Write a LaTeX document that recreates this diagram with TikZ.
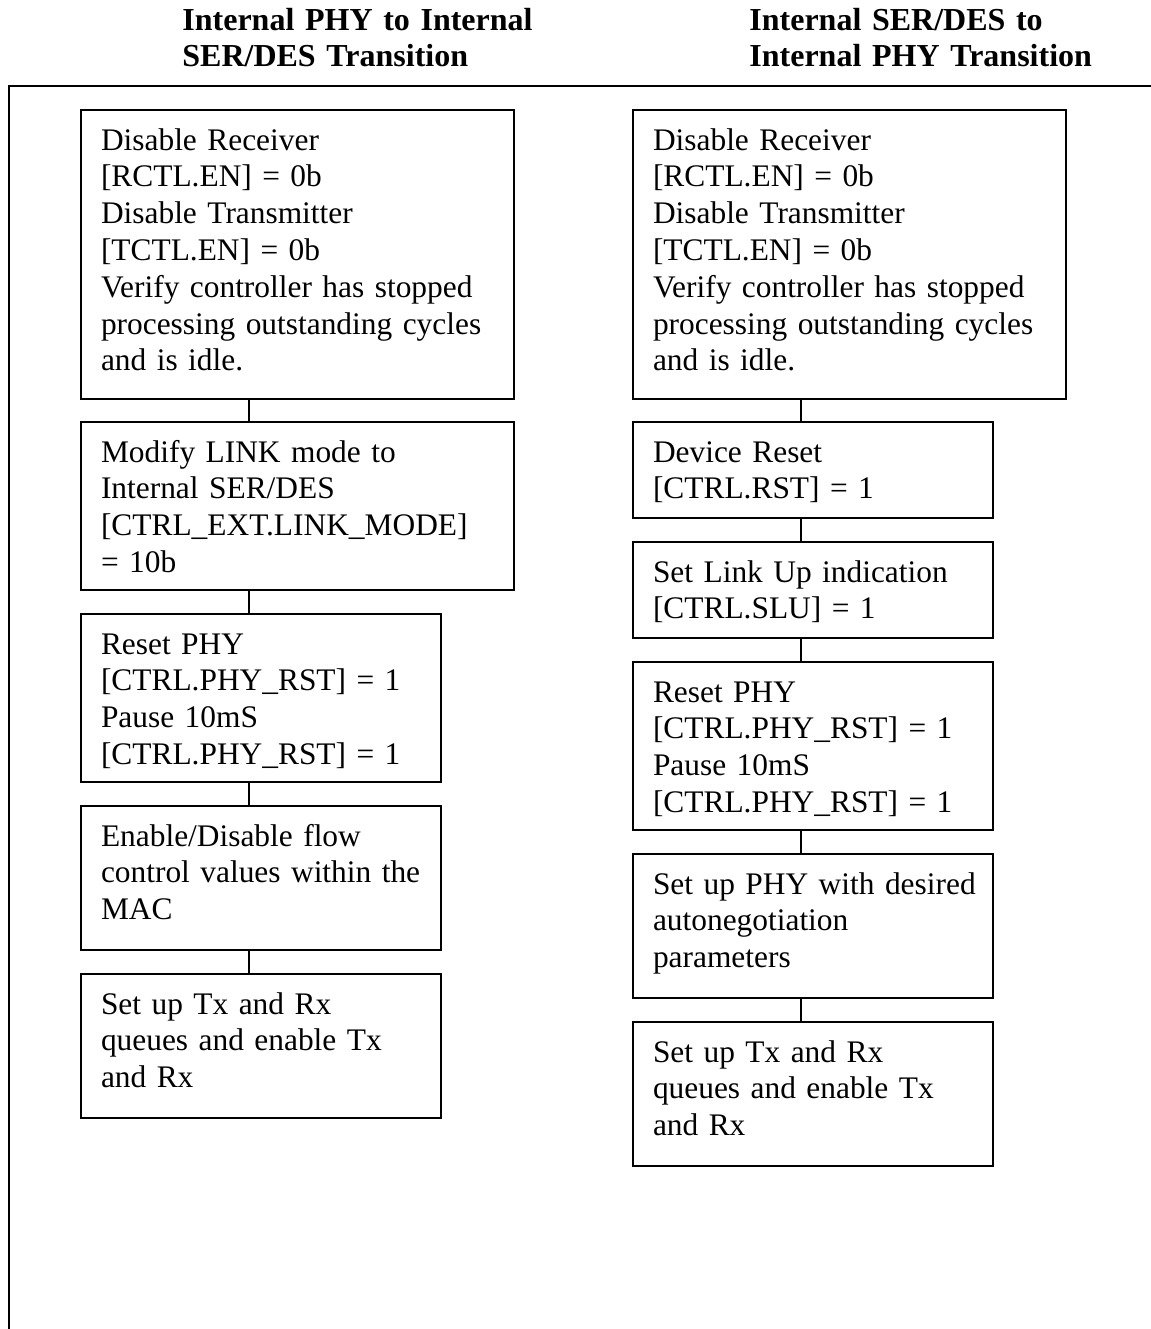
\documentclass[tikz,border=0pt]{standalone}
\usepackage{fontspec}
\setmainfont{Liberation Serif}
\begin{document}
\begin{tikzpicture}[
  x=0.5pt, y=-0.5pt,
  heading/.style={font=\fontsize{16}{18.4}\selectfont\bfseries, anchor=base west,
    align=left, text width=200pt, inner sep=0pt},
  stepbox/.style={font=\fontsize{15.7}{18.4}\selectfont, draw, line width=1pt,
    anchor=north west, inner xsep=10pt, inner ysep=0pt, outer sep=0pt,
    text height=20pt,
    execute at begin node={\leftskip=0pt\rightskip=-30pt plus 1fil\hyphenpenalty=10000\relax}},
  wideB/.style={stepbox, text width=196.5pt},
  narrowB/.style={stepbox, text width=160pt},
  e/.style={line width=1pt}
]
\useasboundingbox (0,0) rectangle (1151,1329);

% --- outer frame (open at right and bottom) ---
\draw[line width=1.2pt] (1151,86) -- (9,86) -- (9,1329);

% --- Left column: PHY -> SER/DES ---
\node[heading] (tL) at (182,30) {Internal PHY to Internal\\SER/DES Transition};

\node[wideB, text depth=124.5pt] (L1) at (81,110) {Disable Receiver\\{}[RCTL.EN] = 0b\\Disable Transmitter\\{}[TCTL.EN] = 0b\\Verify controller has stopped\\processing outstanding cycles\\and is idle.};
\node[wideB, text depth=64pt] (L2) at (81,422) {Modify LINK mode to\\Internal SER/DES\\{}[CTRL\_EXT.LINK\_MODE]\\= 10b};
\node[narrowB, text depth=64pt] (L3) at (81,614) {Reset PHY\\{}[CTRL.PHY\_RST] = 1\\Pause 10mS\\{}[CTRL.PHY\_RST] = 1};
\node[narrowB, text depth=52pt] (L4) at (81,806) {Enable/Disable flow\\control values within the\\MAC};
\node[narrowB, text depth=52pt] (L5) at (81,974) {Set up Tx and Rx\\queues and enable Tx\\and Rx};

\coordinate (lx) at (249,0);
\draw[e] (L1.south -| lx) -- (L2.north -| lx);
\draw[e] (L2.south -| lx) -- (L3.north -| lx);
\draw[e] (L3.south -| lx) -- (L4.north -| lx);
\draw[e] (L4.south -| lx) -- (L5.north -| lx);

% --- Right column: SER/DES -> PHY ---
\node[heading] (tR) at (749,30) {Internal SER/DES to\\Internal PHY Transition};

\node[wideB, text depth=124.5pt] (R1) at (633,110) {Disable Receiver\\{}[RCTL.EN] = 0b\\Disable Transmitter\\{}[TCTL.EN] = 0b\\Verify controller has stopped\\processing outstanding cycles\\and is idle.};
\node[narrowB, text depth=28pt] (R2) at (633,422) {Device Reset\\{}[CTRL.RST] = 1};
\node[narrowB, text depth=28pt] (R3) at (633,542) {Set Link Up indication\\{}[CTRL.SLU] = 1};
\node[narrowB, text depth=64pt] (R4) at (633,662) {Reset PHY\\{}[CTRL.PHY\_RST] = 1\\Pause 10mS\\{}[CTRL.PHY\_RST] = 1};
\node[narrowB, text depth=52pt] (R5) at (633,854) {Set up PHY with desired\\autonegotiation\\parameters};
\node[narrowB, text depth=52pt] (R6) at (633,1022) {Set up Tx and Rx\\queues and enable Tx\\and Rx};

\coordinate (rx) at (801,0);
\draw[e] (R1.south -| rx) -- (R2.north -| rx);
\draw[e] (R2.south -| rx) -- (R3.north -| rx);
\draw[e] (R3.south -| rx) -- (R4.north -| rx);
\draw[e] (R4.south -| rx) -- (R5.north -| rx);
\draw[e] (R5.south -| rx) -- (R6.north -| rx);

\end{tikzpicture}
\end{document}
